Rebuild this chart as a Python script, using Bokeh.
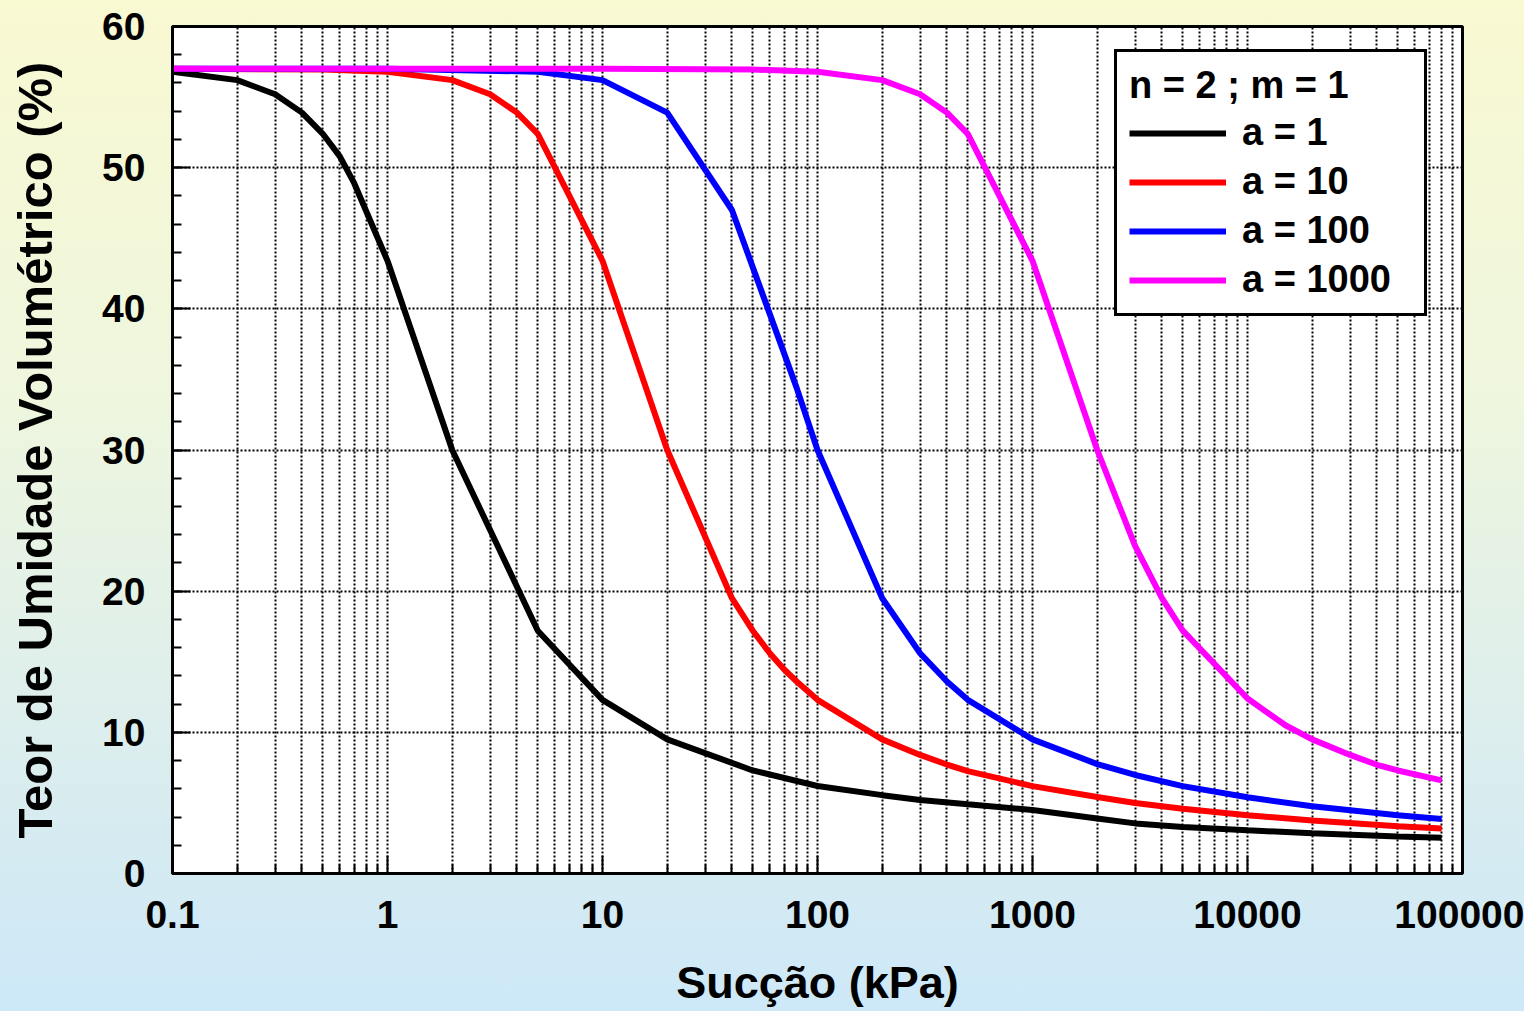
from bokeh.plotting import figure
from bokeh.models import FixedTicker, Range1d
from bokeh.embed import file_html
from bokeh.resources import INLINE

# ---- data ----
x_a1 = [0.1, 0.2, 0.3, 0.4, 0.5, 0.6, 0.7, 1, 2, 5, 10, 20, 50, 100, 200, 300, 500,
        1000, 2000, 3000, 5000, 10000, 20000, 50000, 80000]
y_a1 = [56.8, 56.2, 55.2, 53.9, 52.4, 50.8, 48.9, 43.4, 30.0, 17.2, 12.3, 9.5, 7.3, 6.2, 5.55, 5.2, 4.9,
        4.5, 3.9, 3.55, 3.3, 3.06, 2.85, 2.62, 2.53]

x_a10 = [0.1, 0.5, 1, 2, 3, 4, 5, 10, 20, 40, 50, 60, 70, 80, 100, 200, 300, 400, 500,
         1000, 2000, 3000, 5000, 10000, 20000, 50000, 80000]
y_a10 = [57.0, 56.95, 56.8, 56.2, 55.2, 53.9, 52.4, 43.4, 30.0, 19.5, 17.2, 15.6, 14.45, 13.6, 12.3, 9.5, 8.4, 7.72, 7.25,
         6.19, 5.42, 5.0, 4.59, 4.13, 3.75, 3.35, 3.18]

x_a100 = [0.1, 1, 5, 10, 20, 40, 80, 100, 200, 300, 400, 500,
          1000, 2000, 3000, 5000, 10000, 20000, 50000, 80000]
y_a100 = [57.0, 57.0, 56.8, 56.2, 53.9, 47.0, 34.4, 30.0, 19.5, 15.6, 13.6, 12.3,
          9.5, 7.75, 6.98, 6.19, 5.4, 4.76, 4.13, 3.86]

x_a1000 = [0.1, 10, 50, 100, 200, 300, 400, 500, 1000, 2000, 3000, 4000, 5000,
           10000, 15000, 20000, 30000, 40000, 50000, 80000]
y_a1000 = [57.0, 57.0, 56.95, 56.8, 56.2, 55.2, 53.9, 52.4, 43.4, 30.0, 23.2, 19.5, 17.2,
           12.4, 10.5, 9.5, 8.4, 7.7, 7.3, 6.6]

series_labels = ["a = 1", "a = 10", "a = 100", "a = 1000"]
series_colors = ["#000000", "#FF0000", "#0000FF", "#FF00FF"]

x_major = [0.1, 1, 10, 100, 1000, 10000, 100000]
x_tick_labels = ["0.1", "1", "10", "100", "1000", "10000", "100000"]
x_minor = [m * d for d in [0.1, 1, 10, 100, 1000, 10000] for m in range(2, 10)]
y_major = [0, 10, 20, 30, 40, 50, 60]
y_minor = list(range(0, 61, 2))

legend_title = "n = 2 ; m = 1"
x_title = "Sucção (kPa)"
y_title = "Teor de Umidade Volumétrico (%)"

FONT = "Liberation Sans"

p = figure(width=1524, height=1011, x_axis_type="log",
           x_range=Range1d(0.1, 100000), y_range=Range1d(0, 60),
           output_backend="svg", toolbar_location=None,
           min_border_left=172, min_border_right=62,
           min_border_top=26, min_border_bottom=138)

p.styles = {"background": "linear-gradient(to bottom, #F9F9D2 0%, #EEF6DE 40%, #DDEEEC 70%, #CDE8F8 100%)"}
p.border_fill_color = None
p.background_fill_color = "white"
p.outline_line_color = "black"
p.outline_line_width = 3

xs = [x_a1, x_a10, x_a100, x_a1000]
ys = [y_a1, y_a10, y_a100, y_a1000]
for xv, yv, lab, col in zip(xs, ys, series_labels, series_colors):
    p.line(xv, yv, line_color=col, line_width=6, legend_label=lab)

# axes
p.xaxis.ticker = FixedTicker(ticks=x_major, minor_ticks=x_minor)
p.xaxis.major_label_overrides = {t: s for t, s in zip(x_major, x_tick_labels)}
p.yaxis.ticker = FixedTicker(ticks=y_major, minor_ticks=y_minor)

for ax in (p.xaxis[0], p.yaxis[0]):
    ax.axis_line_color = "black"
    ax.axis_line_width = 3
    ax.major_tick_in = 18
    ax.major_tick_out = 0
    ax.minor_tick_in = 9
    ax.minor_tick_out = 0
    ax.major_tick_line_width = 2
    ax.minor_tick_line_width = 2
    ax.major_tick_line_color = "black"
    ax.minor_tick_line_color = "black"
    ax.major_label_text_font = FONT
    ax.major_label_text_font_style = "bold"
    ax.major_label_text_font_size = "39px"
    ax.major_label_text_color = "black"
    ax.axis_label_text_font = FONT
    ax.axis_label_text_font_style = "bold"
    ax.axis_label_text_color = "black"

p.xaxis.axis_label = x_title
p.yaxis.axis_label = y_title
p.xaxis.axis_label_text_font_size = "45px"
p.yaxis.axis_label_text_font_size = "49px"
p.xaxis.major_label_standoff = 27
p.xaxis.axis_label_standoff = 26
p.yaxis.major_label_standoff = 27
p.yaxis.axis_label_standoff = 37

# grid
for g in (p.xgrid[0], p.ygrid[0]):
    g.grid_line_color = "black"
    g.grid_line_dash = "2 2"
    g.grid_line_width = 2
p.xgrid.minor_grid_line_color = "black"
p.xgrid.minor_grid_line_dash = "2 2"
p.xgrid.minor_grid_line_width = 2

# legend
lg = p.legend[0]
lg.title = legend_title
lg.title_text_font = FONT
lg.title_text_font_style = "bold"
lg.title_text_font_size = "38px"
lg.title_text_color = "black"
lg.title_standoff = 4
lg.label_text_font = FONT
lg.label_text_font_style = "bold"
lg.label_text_font_size = "38px"
lg.label_text_color = "black"
lg.glyph_width = 97
lg.glyph_height = 40
lg.label_standoff = 16
lg.label_width = 170
lg.spacing = 6
lg.padding = 12
lg.margin = 0
lg.border_line_color = "black"
lg.border_line_alpha = 1
lg.border_line_width = 3
lg.background_fill_color = "white"
lg.background_fill_alpha = 1
lg.location = (942, 557)

open("out.html", "w").write(file_html(p, INLINE))
